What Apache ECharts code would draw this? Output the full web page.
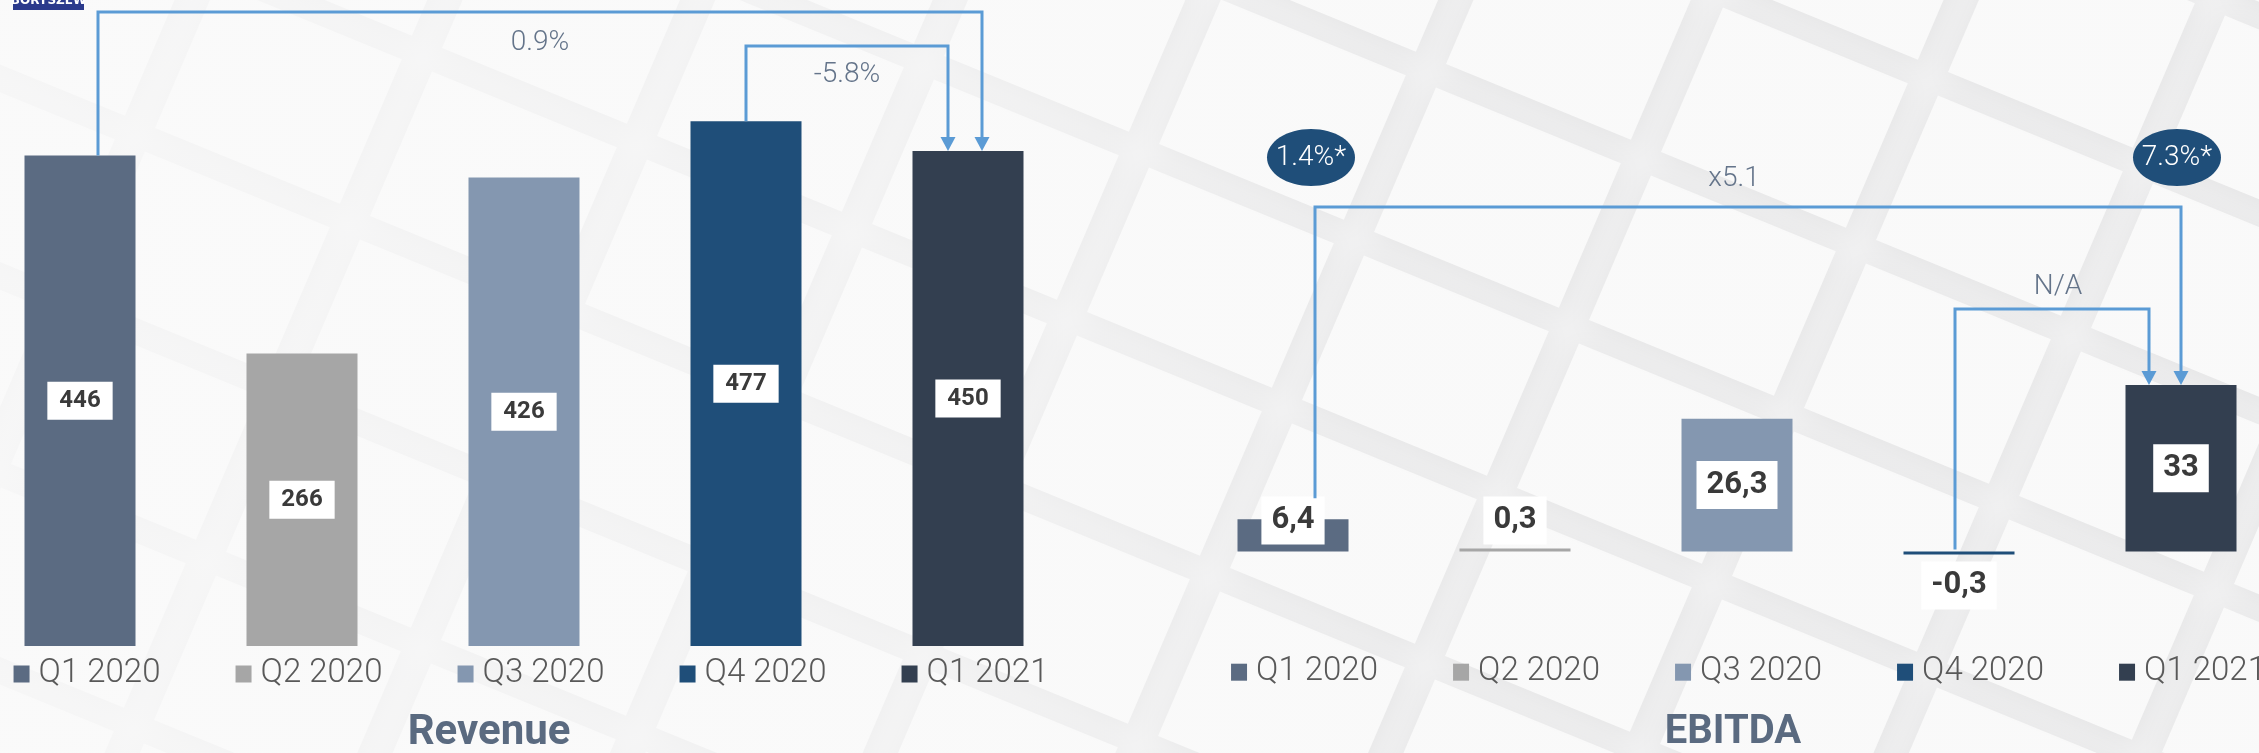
<!DOCTYPE html>
<html>
<head>
<meta charset="utf-8">
<script src="https://cdn.jsdelivr.net/npm/echarts@6/dist/echarts.min.js"></script>
<style>
  html, body { margin: 0; padding: 0; background: #f1f1f2; }
  #chart { width: 2259px; height: 753px; }
</style>
</head>
<body>
<div id="chart"></div>
<script>
// Quarterly results: revenue and EBITDA
const categories = ['Q1 2020', 'Q2 2020', 'Q3 2020', 'Q4 2020', 'Q1 2021'];
const revenue = [446, 266, 426, 477, 450];
const ebitda = [6.4, 0.3, 26.3, -0.3, 33];
const revenueChange = ['0.9%', '-5.8%'];   // Q1 2021 vs Q1 2020, Q1 2021 vs Q4 2020
const ebitdaChange = ['x5.1', 'N/A'];      // Q1 2021 vs Q1 2020, Q1 2021 vs Q4 2020
const ebitdaMargin = ['1.4%*', '7.3%*'];   // Q1 2020, Q1 2021
const panelTitles = ['Revenue', 'EBITDA'];
const quarterColors = ['#5b6b82', '#a6a6a6', '#8497b0', '#1f4e79', '#333f50'];

const FONT = 'Roboto, "Noto Sans", sans-serif';
const ARROW = '#5b9bd5';
const NOTE = '#64748a';

const chart = echarts.init(document.getElementById('chart'), null, { renderer: 'canvas' });

function fmtComma(v) { return String(v).replace('.', ','); }

function axisLabel(padLeft, margin) {
  const rich = {
    t: { fontFamily: FONT, fontWeight: 300, fontSize: 33, color: '#595959', lineHeight: 36, padding: [0, 0, 0, 9], verticalAlign: 'middle' }
  };
  quarterColors.forEach((c, i) => {
    rich['m' + i] = { width: 16, height: 17, backgroundColor: c, verticalAlign: 'middle' };
  });
  return {
    interval: 0,
    margin: margin,
    padding: [0, 0, 0, padLeft],
    formatter: (v, i) => '{m' + i + '|}{t|' + v + '}',
    rich: rich
  };
}

const revenueData = revenue.map((v, i) => ({ value: v, itemStyle: { color: quarterColors[i] } }));
const ebitdaPos = ['insideBottom', 'insideBottom', 'inside', 'bottom', 'inside'];
const ebitdaData = ebitda.map((v, i) => ({
  value: v,
  itemStyle: { color: quarterColors[i] },
  label: { position: ebitdaPos[i], distance: 7 }
}));

// soft tiled backdrop
function backdrop() {
  const a = [215, 88], b = [72, -168];
  const s = 0.86;
  const els = [{ type: 'rect', silent: true, z: -30, shape: { x: 0, y: 0, width: 2259, height: 753 }, style: { fill: '#ebebec' } }];
  for (let i = -8; i < 16; i++) {
    for (let j = -6; j < 14; j++) {
      const ox = -60 + i * a[0] + j * b[0];
      const oy = 40 + i * a[1] + j * b[1];
      if (ox < -400 || ox > 2450 || oy < -300 || oy > 950) continue;
      els.push({
        type: 'polygon', silent: true, z: -20,
        shape: { points: [[ox, oy], [ox + a[0] * s, oy + a[1] * s], [ox + a[0] * s + b[0] * s, oy + a[1] * s + b[1] * s], [ox + b[0] * s, oy + b[1] * s]] },
        style: { fill: '#f9f9f9', shadowBlur: 30, shadowColor: 'rgba(0,0,0,0.07)', shadowOffsetX: 0, shadowOffsetY: 5 }
      });
    }
  }
  els.push({
    type: 'rect', silent: true, z: -10, shape: { x: 0, y: 0, width: 2259, height: 753 },
    style: { fill: new echarts.graphic.LinearGradient(0, 0, 1, 0, [
      { offset: 0, color: 'rgba(250,250,250,0.82)' },
      { offset: 0.42, color: 'rgba(250,250,250,0.62)' },
      { offset: 0.6, color: 'rgba(250,250,250,0.35)' },
      { offset: 1, color: 'rgba(250,250,250,0.3)' }
    ]) }
  });
  return els;
}

const gridBase = { containLabel: false, outerBoundsMode: 'none' };

const option = {
  animation: false,
  backgroundColor: 'transparent',
  title: [
    { text: panelTitles[0], left: 484, top: 707, textAlign: 'center', textStyle: { fontFamily: FONT, fontWeight: 'bold', fontSize: 42, color: '#5a6a80' } },
    { text: panelTitles[1], left: 1728, top: 708, textAlign: 'center', textStyle: { fontFamily: FONT, fontWeight: 'bold', fontSize: 40, color: '#5a6a80' } }
  ],
  grid: [
    Object.assign({ left: -31, width: 1110, top: 96, height: 550 }, gridBase),
    Object.assign({ left: 1182, width: 1110, top: 349.8, height: 302.4 }, gridBase)
  ],
  xAxis: [
    { type: 'category', gridIndex: 0, data: categories, axisLine: { show: false }, axisTick: { show: false }, axisLabel: axisLabel(14, 10) },
    { type: 'category', gridIndex: 1, data: categories, axisLine: { show: false }, axisTick: { show: false }, axisLabel: axisLabel(23, 2) }
  ],
  yAxis: [
    { type: 'value', gridIndex: 0, min: 0, max: 500, show: false, splitLine: { show: false } },
    { type: 'value', gridIndex: 1, min: -20, max: 40, interval: 20, show: false, splitLine: { show: false } }
  ],
  series: [
    {
      type: 'bar', xAxisIndex: 0, yAxisIndex: 0, barWidth: 111, data: revenueData, clip: false,
      label: {
        show: true, position: 'inside', backgroundColor: '#ffffff', padding: [7, 12],
        fontFamily: FONT, fontWeight: 'bold', fontSize: 24, lineHeight: 24, color: '#3a3a3a'
      }
    },
    {
      type: 'bar', xAxisIndex: 1, yAxisIndex: 1, barWidth: 111, barMinHeight: 3, data: ebitdaData, clip: false,
      label: {
        show: true, backgroundColor: '#ffffff', padding: [8, 10],
        fontFamily: FONT, fontWeight: 'bold', fontSize: 31, lineHeight: 32, color: '#3a3a3a',
        formatter: p => fmtComma(p.value)
      }
    }
  ],
  graphic: backdrop()
};

chart.setOption(option);

// bracket arrows between bars, placed from the axes' own scales
function px(seriesIndex, i, v) { return chart.convertToPixel({ seriesIndex: seriesIndex }, [categories[i], v]); }

function bracket(points) {
  const tip = points[points.length - 1];
  const shaft = points.slice(0, -1).concat([[tip[0], tip[1] - 13]]);
  return [
    { type: 'polyline', silent: true, z: 50, shape: { points: shaft }, style: { stroke: ARROW, lineWidth: 3, fill: null, lineJoin: 'miter' } },
    { type: 'polygon', silent: true, z: 50, shape: { points: [[tip[0] - 7.5, tip[1] - 14], [tip[0] + 7.5, tip[1] - 14], [tip[0], tip[1]]] }, style: { fill: ARROW } }
  ];
}

function note(text, x, y, size, color) {
  return { type: 'text', silent: true, z: 50, x: x, y: y, style: { text: text, fontFamily: FONT, fontWeight: 300, fontSize: size, fill: color, align: 'center', verticalAlign: 'middle' } };
}

const r0 = px(0, 0, revenue[0]), r3 = px(0, 3, revenue[3]), r4 = px(0, 4, revenue[4]);
const e0 = px(1, 0, ebitda[0]), e3 = px(1, 3, 0), e4 = px(1, 4, ebitda[4]);

const extra = [];
// revenue: Q1 2021 vs Q1 2020 and vs Q4 2020
const rBigX0 = r0[0] + 18, rBigX1 = r4[0] + 14;
extra.push(...bracket([[rBigX0, r0[1]], [rBigX0, 12], [rBigX1, 12], [rBigX1, r4[1]]]));
extra.push(note(revenueChange[0], (rBigX0 + rBigX1) / 2, 43, 28, NOTE));
const rSmX0 = r3[0], rSmX1 = r4[0] - 20;
extra.push(...bracket([[rSmX0, r3[1]], [rSmX0, 46], [rSmX1, 46], [rSmX1, r4[1]]]));
extra.push(note(revenueChange[1], (rSmX0 + rSmX1) / 2, 75, 28, NOTE));

// EBITDA: Q1 2021 vs Q1 2020 and vs Q4 2020
const eBigX0 = e0[0] + 22, eBigX1 = e4[0];
extra.push(...bracket([[eBigX0, e0[1] - 21], [eBigX0, 207], [eBigX1, 207], [eBigX1, e4[1]]]));
extra.push(note(ebitdaChange[0], (eBigX0 + eBigX1) / 2 - 14, 179, 28, NOTE));
const eSmX0 = e3[0] - 4, eSmX1 = e4[0] - 32;
extra.push(...bracket([[eSmX0, e3[1] - 2], [eSmX0, 309], [eSmX1, 309], [eSmX1, e4[1]]]));
extra.push(note(ebitdaChange[1], (eSmX0 + eSmX1) / 2 + 6, 287, 28, NOTE));

// EBITDA margin badges
[[e0[0] + 18, ebitdaMargin[0]], [e4[0] - 4, ebitdaMargin[1]]].forEach(([x, t]) => {
  extra.push({ type: 'ellipse', silent: true, z: 50, shape: { cx: x, cy: 157.5, rx: 44, ry: 28.5 }, style: { fill: '#1f4e79' } });
  extra.push(note(t, x, 158, 28, '#ffffff'));
});

// company mark, top left
extra.push({ type: 'rect', silent: true, z: 60, shape: { x: 13, y: -16, width: 71, height: 26 }, style: { fill: '#2b3a8c' } });
extra.push({ type: 'text', silent: true, z: 61, x: 48.5, y: 7, style: { text: 'BORYSZEW', fontFamily: '"DejaVu Sans", sans-serif', fontWeight: 'bold', fontSize: 12, fill: '#ffffff', align: 'center', verticalAlign: 'bottom' } });

chart.setOption({ graphic: backdrop().concat(extra) });
</script>
</body>
</html>
